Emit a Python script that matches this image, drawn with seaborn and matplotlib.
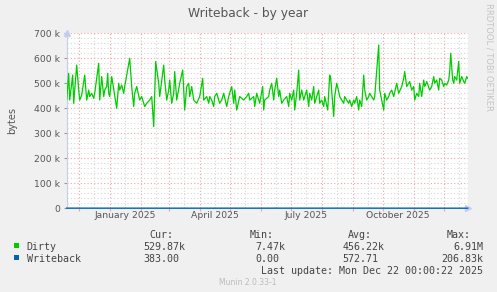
import matplotlib
matplotlib.use("Agg")
import matplotlib.pyplot as plt
import matplotlib.dates as mdates
from matplotlib.ticker import FixedLocator, FixedFormatter, MultipleLocator
from matplotlib.patches import Rectangle
import pandas as pd
import seaborn as sns

# ---------------- data ----------------
start = pd.Timestamp("2024-11-18 16:48")
span_days = 401

dirty_days = [0, 2, 3, 6, 7, 10, 12, 13, 15, 18, 20, 22, 23, 25, 27, 28, 32, 33, 35, 37, 38, 40, 41, 42, 43, 45,
              50, 52, 53, 55, 57, 58, 63, 65, 67, 68, 70, 73, 75, 78, 80, 83, 85, 87, 89, 92, 93, 97, 98, 100,
              102, 103, 105, 107, 108, 110, 113, 116, 118, 120, 122, 123, 125, 127, 130, 133, 136, 137, 140,
              142, 143, 145, 147, 148, 150, 153, 155, 157, 160, 162, 165, 167, 168, 170, 173, 177, 180, 182,
              183, 187, 188, 190, 192, 193, 196, 197, 198, 202, 203, 205, 207, 208, 210, 212, 213, 215, 217,
              220, 222, 223, 225, 227, 228, 230, 232, 233, 235, 237, 238, 240, 242, 243, 245, 247, 248, 250,
              252, 253, 255, 257, 258, 261, 263, 264, 267, 268, 270, 272, 273, 275, 277, 278, 280, 282, 283,
              285, 287, 288, 290, 292, 293, 295, 297, 298, 300, 302, 303, 307, 308, 312, 313, 315, 317, 318,
              320, 322, 323, 325, 327, 330, 332, 335, 337, 338, 340, 342, 343, 345, 347, 348, 350, 352, 353,
              355, 357, 358, 360, 363, 365, 367, 368, 370, 372, 373, 375, 377, 378, 380, 382, 383, 384, 386,
              387, 388, 390, 392, 393, 395, 397, 398, 400, 401]
dirty_k = [433, 540, 433, 533, 420, 573, 473, 433, 453, 533, 433, 473, 447, 460, 440, 460, 580, 433, 527, 447,
           473, 487, 540, 460, 447, 527, 400, 500, 473, 493, 460, 487, 600, 487, 407, 460, 487, 433, 447, 407,
           420, 433, 447, 327, 587, 500, 447, 573, 513, 433, 473, 513, 420, 460, 547, 433, 500, 553, 393, 487,
           500, 447, 487, 433, 420, 447, 520, 433, 447, 420, 447, 433, 407, 447, 460, 420, 433, 460, 407, 447,
           487, 420, 473, 393, 447, 433, 447, 460, 433, 447, 407, 460, 433, 420, 487, 393, 433, 447, 473, 500,
           433, 473, 520, 447, 473, 420, 433, 447, 407, 460, 433, 473, 393, 460, 553, 433, 473, 433, 447, 473,
           407, 460, 433, 487, 420, 447, 473, 420, 433, 407, 447, 393, 533, 520, 367, 447, 500, 467, 447, 433,
           420, 447, 433, 420, 433, 407, 433, 420, 447, 393, 433, 407, 533, 473, 433, 447, 460, 433, 447, 653,
           473, 433, 393, 460, 433, 447, 460, 473, 447, 500, 460, 487, 520, 547, 487, 500, 507, 473, 487, 433,
           460, 447, 500, 447, 513, 487, 507, 473, 487, 527, 500, 513, 473, 520, 513, 487, 500, 493, 513, 547,
           620, 513, 500, 527, 513, 587, 500, 527, 507, 500, 527, 520]

wb_days = [0, 100, 200, 300, 401]
wb_bytes = [600, 500, 550, 600, 383]

month_starts = ["2024-12-01", "2025-01-01", "2025-02-01", "2025-03-01", "2025-04-01", "2025-05-01",
                "2025-06-01", "2025-07-01", "2025-08-01", "2025-09-01", "2025-10-01", "2025-11-01",
                "2025-12-01"]
mid_months = ["2024-12-16", "2025-01-16", "2025-02-16", "2025-03-16", "2025-04-16", "2025-05-16",
              "2025-06-16", "2025-07-16", "2025-08-16", "2025-09-16", "2025-10-16", "2025-11-16",
              "2025-12-16"]
mid_labels = ["", "January 2025", "", "", "April 2025", "", "", "July 2025", "", "",
              "October 2025", "", ""]
y_ticks = [0, 100000, 200000, 300000, 400000, 500000, 600000, 700000]
y_labels = ["0", "100 k", "200 k", "300 k", "400 k", "500 k", "600 k", "700 k"]

title = "Writeback - by year"
ylabel = "bytes"
series_names = ["Dirty", "Writeback"]
series_colors = ["#00cc00", "#0066b3"]
cur_vals = ["529.87k", "383.00"]
min_vals = ["7.47k", "0.00"]
avg_vals = ["456.22k", "572.71"]
max_vals = ["6.91M", "206.83k"]
last_update = "Last update: Mon Dec 22 00:00:22 2025"
footer = "Munin 2.0.33-1"
side_text = "RRDTOOL / TOBI OETIKER"

# ---------------- figure ----------------
W, H = 497, 292
fig = plt.figure(figsize=(W / 100, H / 100), dpi=100)
fig.patch.set_facecolor("#f0f0f0")


def px(x, y):
    return x / W, 1 - y / H


L, R, T, B = 66.7, 467.7, 33.3, 208.3
ax = fig.add_axes([L / W, 1 - B / H, (R - L) / W, (B - T) / H])
ax.set_facecolor("white")

dirty_df = pd.DataFrame({"date": start + pd.to_timedelta(dirty_days, unit="D"),
                         "value": [v * 1000 for v in dirty_k]})
wb_df = pd.DataFrame({"date": start + pd.to_timedelta(wb_days, unit="D"), "value": wb_bytes})

sns.lineplot(data=dirty_df, x="date", y="value", ax=ax, color=series_colors[0], lw=0.9, zorder=5)
sns.lineplot(data=wb_df, x="date", y="value", ax=ax, color=series_colors[1], lw=1.0, zorder=6,
             clip_on=False)

ax.set_xlim(start, start + pd.Timedelta(days=span_days))
ax.set_ylim(0, 700000)
ax.set_xlabel("")
ax.set_ylabel("")

# x axis: major at month starts (red grid), minor at mid-months (grey grid + labels)
ax.xaxis.set_major_locator(FixedLocator([mdates.date2num(pd.Timestamp(d)) for d in month_starts]))
ax.xaxis.set_major_formatter(FixedFormatter([""] * len(month_starts)))
ax.xaxis.set_minor_locator(FixedLocator([mdates.date2num(pd.Timestamp(d)) for d in mid_months]))
ax.xaxis.set_minor_formatter(FixedFormatter(mid_labels))
ax.yaxis.set_major_locator(FixedLocator(y_ticks))
ax.yaxis.set_major_formatter(FixedFormatter(y_labels))
ax.yaxis.set_minor_locator(MultipleLocator(20000))

red = "#f4a3a3"
grey = "#d6d6d6"
ax.grid(which="major", color=red, ls=(0, (1, 2)), lw=0.8, zorder=1)
ax.grid(which="minor", color=grey, ls=(0, (1, 2)), lw=0.8, zorder=0)
ax.set_axisbelow(True)

ax.tick_params(axis="x", which="major", length=2.5, width=0.8, color=red, direction="out")
ax.tick_params(axis="x", which="minor", length=0, pad=2.0, labelsize=6.7, labelcolor="#555555")
ax.tick_params(axis="y", which="major", length=2.5, width=0.8, color="#999999", pad=2.5,
               labelsize=6.7, labelcolor="#555555")
ax.tick_params(axis="y", which="minor", length=0)

for s in ["top", "right"]:
    ax.spines[s].set_visible(False)
for s in ["left", "bottom"]:
    ax.spines[s].set_color("#c4cdea")
    ax.spines[s].set_linewidth(0.8)

# axis arrows
ax.plot([1.0], [0], marker=">", ms=4, color="#c4cdf4", transform=ax.transAxes, clip_on=False)
ax.plot([0], [1.0], marker="^", ms=4, color="#c4cdf4", transform=ax.transAxes, clip_on=False)

# titles
fig.text(*px(248, 14), title, ha="center", va="center", fontsize=8.8, color="#555555")
fig.text(*px(12, 120.8), ylabel, ha="center", va="center", rotation=90, fontsize=7, color="#555555")
fig.text(*px(489, 56.5), side_text, ha="center", va="center", rotation=270, fontsize=6.0,
         color="#c4c4c4")

# legend / stats
mono = dict(family="DejaVu Sans Mono", fontsize=7.2, color="#444444", va="baseline")
fig.text(*px(149, 238), "Cur:", ha="left", **mono)
fig.text(*px(250, 238), "Min:", ha="left", **mono)
fig.text(*px(348, 238), "Avg:", ha="left", **mono)
fig.text(*px(447, 238), "Max:", ha="left", **mono)
rows_y = [249.5, 261.5]
for i, name in enumerate(series_names):
    yb = rows_y[i]
    fig.patches.append(Rectangle(px(14, yb - 2), 5 / W, 5 / H, transform=fig.transFigure,
                                 facecolor=series_colors[i], edgecolor="none"))
    fig.text(*px(26.7, yb), name, ha="left", **mono)
    fig.text(*px(143.3, yb), cur_vals[i], ha="left", **mono)
    fig.text(*px(255, yb), min_vals[i], ha="left", **mono)
    fig.text(*px(342.7, yb), avg_vals[i], ha="left", **mono)
    fig.text(*px(483.3, yb), max_vals[i], ha="right", **mono)
fig.text(*px(483.3, 273.5), last_update, ha="right", **mono)
fig.text(*px(248, 285), footer, ha="center", va="baseline", fontsize=5.5, color="#bbbbbb")

fig.savefig("out.png", dpi=100, facecolor=fig.get_facecolor())
